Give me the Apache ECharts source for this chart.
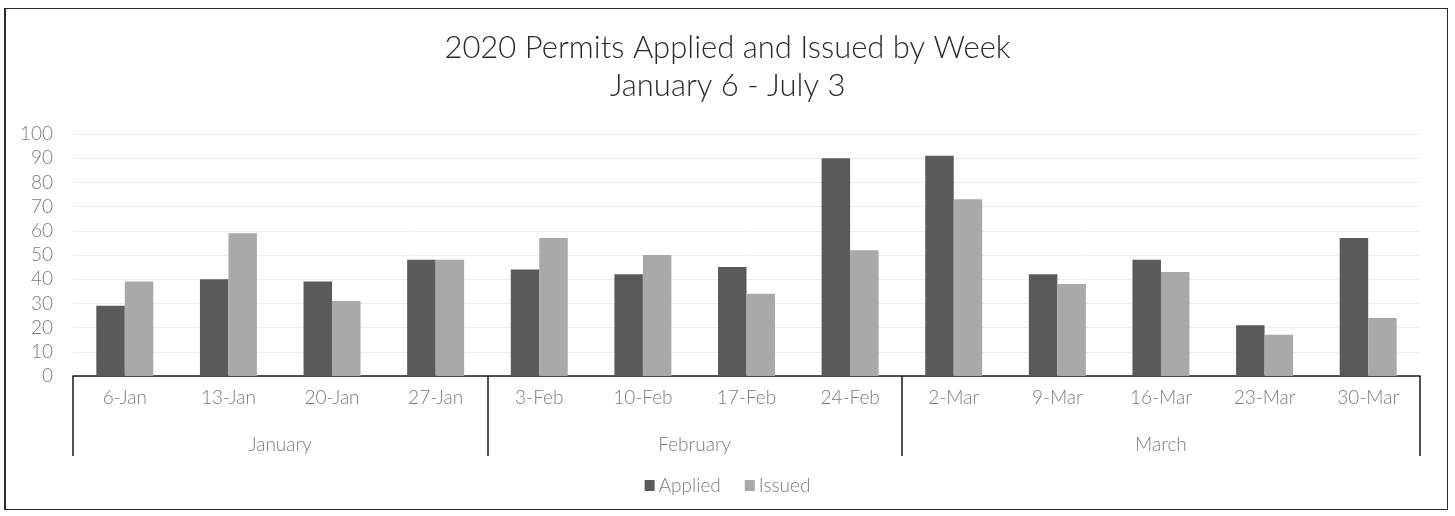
<!DOCTYPE html>
<html>
<head>
<meta charset="utf-8">
<title>2020 Permits Applied and Issued by Week</title>
<script src="https://cdn.jsdelivr.net/npm/echarts@6/dist/echarts.min.js"></script>
<style>
  html, body { margin: 0; padding: 0; background: #ffffff; }
  #wrap { position: relative; width: 1455px; height: 516px; }
  #chart { position: absolute; left: 0; top: 0; width: 1455px; height: 516px; }
  #frame {
    position: absolute; left: 4px; top: 8px; width: 1441px; height: 500px;
    border: 1.5px solid #2a2a2a; border-left-width: 2px; pointer-events: none;
  }
</style>
</head>
<body>
<div id="wrap">
  <div id="chart"></div>
  <div id="frame"></div>
</div>
<script>
// Weekly permit counts, grouped by month
const weeks = ['6-Jan', '13-Jan', '20-Jan', '27-Jan',
               '3-Feb', '10-Feb', '17-Feb', '24-Feb',
               '2-Mar', '9-Mar', '16-Mar', '23-Mar', '30-Mar'];
const applied = [29, 40, 39, 48, 44, 42, 45, 90, 91, 42, 48, 21, 57];
const issued  = [39, 59, 31, 48, 57, 50, 34, 52, 73, 38, 43, 17, 24];
const months = ['January', 'February', 'March'];
const weeksPerMonth = [4, 4, 5];
const yMin = 0, yMax = 100, yStep = 10;

// Month group edges and centres on a 0..weeks.length scale
const monthEdges = [0];
weeksPerMonth.forEach(n => monthEdges.push(monthEdges[monthEdges.length - 1] + n));
const monthCentres = months.map((m, i) => (monthEdges[i] + monthEdges[i + 1]) / 2);

const FONT = 'Lato, "Open Sans", sans-serif';
const labelGrey = '#7c7c7c';
const labelText = { fontFamily: FONT, fontSize: 19, fontWeight: 300, color: labelGrey };

const chart = echarts.init(document.getElementById('chart'), null, { renderer: 'canvas' });
chart.setOption({
  animation: false,
  backgroundColor: 'transparent',
  title: {
    text: '2020 Permits Applied and Issued by Week\nJanuary 6 - July 3',
    left: 'center',
    top: 24,
    textStyle: { fontFamily: FONT, fontSize: 31, fontWeight: 300, color: '#2a2a2a', lineHeight: 38 }
  },
  legend: {
    data: ['Applied', 'Issued'],
    left: 'center',
    top: 471,
    icon: 'rect',
    itemWidth: 10,
    itemHeight: 11,
    itemGap: 24,
    itemStyle: { borderWidth: 0 },
    textStyle: Object.assign({}, labelText, { padding: [0, 0, 0, -1] })
  },
  grid: { left: 73, right: 35, top: 134, bottom: 140, containLabel: false },
  xAxis: [
    {
      type: 'category',
      data: weeks,
      position: 'bottom',
      axisLine: { show: true, lineStyle: { color: '#1a1a1a', width: 1.5 } },
      axisTick: { show: false },
      axisLabel: Object.assign({ margin: 12, interval: 0 }, labelText)
    },
    {
      // month band beneath the week labels
      type: 'value',
      min: 0,
      max: weeks.length,
      position: 'bottom',
      gridIndex: 0,
      axisLine: { show: false },
      splitLine: { show: false },
      axisTick: {
        show: true,
        customValues: monthEdges,
        length: 80,
        lineStyle: { color: '#1a1a1a', width: 1.5 }
      },
      axisLabel: Object.assign({
        customValues: monthCentres,
        formatter: v => months[monthCentres.indexOf(v)] || '',
        margin: 59
      }, labelText)
    }
  ],
  yAxis: {
    type: 'value',
    min: yMin,
    max: yMax,
    interval: yStep,
    axisLine: { show: false },
    axisTick: { show: false },
    axisLabel: Object.assign({ margin: 20 }, labelText),
    splitLine: { show: true, lineStyle: { color: '#ededed', width: 1 } }
  },
  series: [
    {
      name: 'Applied',
      type: 'bar',
      data: applied,
      barGap: '0%',
      barCategoryGap: '45%',
      itemStyle: { color: '#5a5a5a' }
    },
    {
      name: 'Issued',
      type: 'bar',
      data: issued,
      barGap: '0%',
      barCategoryGap: '45%',
      itemStyle: { color: '#a9a9a9' }
    }
  ]
});
</script>
</body>
</html>
